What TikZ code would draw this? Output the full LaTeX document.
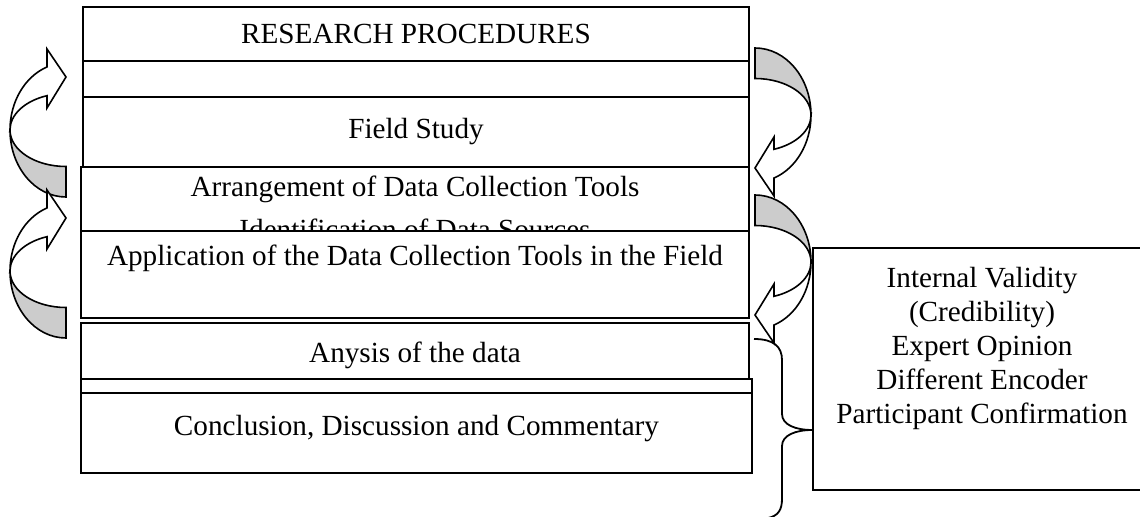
\documentclass[tikz,border=0pt]{standalone}
\usepackage{fontspec}
\setmainfont{Liberation Serif}
\usetikzlibrary{positioning}
\tikzset{
  stage/.style={draw, line width=0.9pt, fill=white, align=center, inner sep=0pt, minimum width=334pt, font=\fontsize{14.6}{17}\selectfont},
  stagetext/.style={align=center, inner sep=0pt, font=\fontsize{14.6}{17}\selectfont},
  sidebox/.style={draw, line width=0.9pt, fill=white, align=center, inner sep=0pt, font=\fontsize{14.6}{17}\selectfont},
  brace/.style={line width=0.9pt},
  arrline/.style={line width=0.8pt, line join=miter},
  curvarrow/.pic={
    \filldraw[arrline, fill=gray!40] (0,67) arc[start angle=90, end angle=180, x radius=56, y radius=67]
      arc[start angle=180, end angle=90, x radius=56, y radius=36.5] -- cycle;
    \filldraw[arrline, fill=white] (-56,0) arc[start angle=180, end angle=250.2, x radius=56, y radius=67]
      -- (-19,-81) -- (0,-53) -- (-19,-22) -- (-19,-34.3)
      arc[start angle=250.2, end angle=180, x radius=56, y radius=36.5] -- cycle;
  }
}
\begin{document}
\begin{tikzpicture}[x=0.5pt, y=-0.5pt]
    \useasboundingbox (0,0) rectangle (1140,517);
    % stacked stages
    \node[stage, minimum width=333pt, minimum height=27pt] (proc) at (416,34) {RESEARCH PROCEDURES};
    \node[stage, minimum width=333pt, minimum height=18pt] (lit) at (416,79) {};
    \node[stage, minimum width=333pt, minimum height=35pt] (field) at (416,132) {Field Study};
    \node[stage, minimum height=32pt] (arrange) at (415,199) {};
    \node[stagetext, below=4.5pt of arrange.north] (arrtext) {Arrangement of Data Collection Tools\\[4.5pt]Identification of Data Sources};
    \node[stage, minimum height=43.5pt] (apply) at (415,274.5) {Application of the Data Collection Tools in the Field\\[2pt] \mbox{}};
    \node[stage, minimum height=28pt, text height=16pt, text depth=4pt] (analysis) at (415,351) {Anysis of the data};
    \node[stage, minimum width=335.5pt, minimum height=47pt, text height=12.5pt, text depth=3pt] (concl) at (416.5,426) {Conclusion, Discussion and Commentary};
    \draw[line width=0.9pt] (concl.west |- 0,393) -- (concl.east |- 0,393);

    % validity box and brace
    \node[sidebox, minimum width=169pt, minimum height=121pt] (valid) at (982,369) {Internal Validity\\(Credibility)\\Expert Opinion\\Different Encoder\\Participant Confirmation\\[7pt] \mbox{}};
    \coordinate (btip) at (valid.west |- 0,430);
    \draw[brace] (754,339) .. controls (774,339) and (782,347) .. (782,360) -- (782,414)
      .. controls (782,425) and (796,430) .. (btip)
      .. controls (796,430) and (782,435) .. (782,446) -- (782,499)
      .. controls (782,510) and (778,516) .. (768,518);

    % curved arrows
    \pic at (66,130) {curvarrow};
    \pic at (66,271) {curvarrow};
    \pic[rotate=180] at (755,115) {curvarrow};
    \pic[rotate=180] at (755,262) {curvarrow};
\end{tikzpicture}
\end{document}
